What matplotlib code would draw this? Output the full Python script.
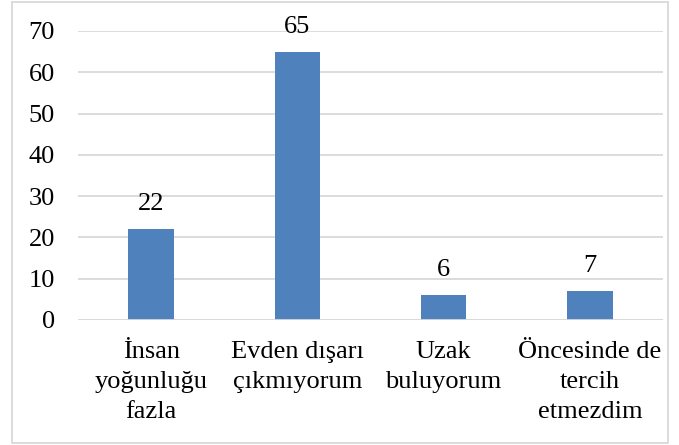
import matplotlib.pyplot as plt
from matplotlib.patches import Rectangle

categories = ['İnsan\nyoğunluğu\nfazla', 'Evden dışarı\nçıkmıyorum', 'Uzak\nbuluyorum', 'Öncesinde de\ntercih\netmezdim']
values = [22, 65, 6, 7]
yticks = [0, 10, 20, 30, 40, 50, 60, 70]

plt.rcParams['font.family'] = ['Liberation Serif', 'DejaVu Serif']
plt.rcParams['font.size'] = 19

fig = plt.figure(figsize=(6.79, 4.45), dpi=100)
ax = fig.add_axes([78 / 679, 1 - 320 / 445, 585 / 679, 289 / 445])

x = list(range(len(categories)))
bars = ax.bar(x, values, width=0.31, color='#4F81BD', zorder=3)

for b, v in zip(bars, values):
    ax.annotate(str(v), (b.get_x() + b.get_width() / 2, v), xytext=(0, 10),
                textcoords='offset points', ha='center', va='bottom', fontsize=19)

ax.set_xlim(-0.5, len(categories) - 0.5)
ax.set_ylim(0, 70)
ax.set_yticks(yticks)
ax.set_xticks(x)
ax.set_xticklabels(categories, linespacing=1.48, va='top')
ax.grid(axis='y', color='#D9D9D9', linewidth=1.3, zorder=0)
ax.tick_params(length=0)
ax.tick_params(axis='y', pad=16.5)
ax.tick_params(axis='x', pad=15)
for s in ax.spines.values():
    s.set_visible(False)
ax.axhline(0, color='#D9D9D9', linewidth=1.3, zorder=4)

fig.patches.append(Rectangle((12 / 679, 2 / 445), 656 / 679, 441 / 445, transform=fig.transFigure,
                             fill=False, edgecolor='#D9D9D9', linewidth=1.3))

fig.savefig('out.png', dpi=100)
